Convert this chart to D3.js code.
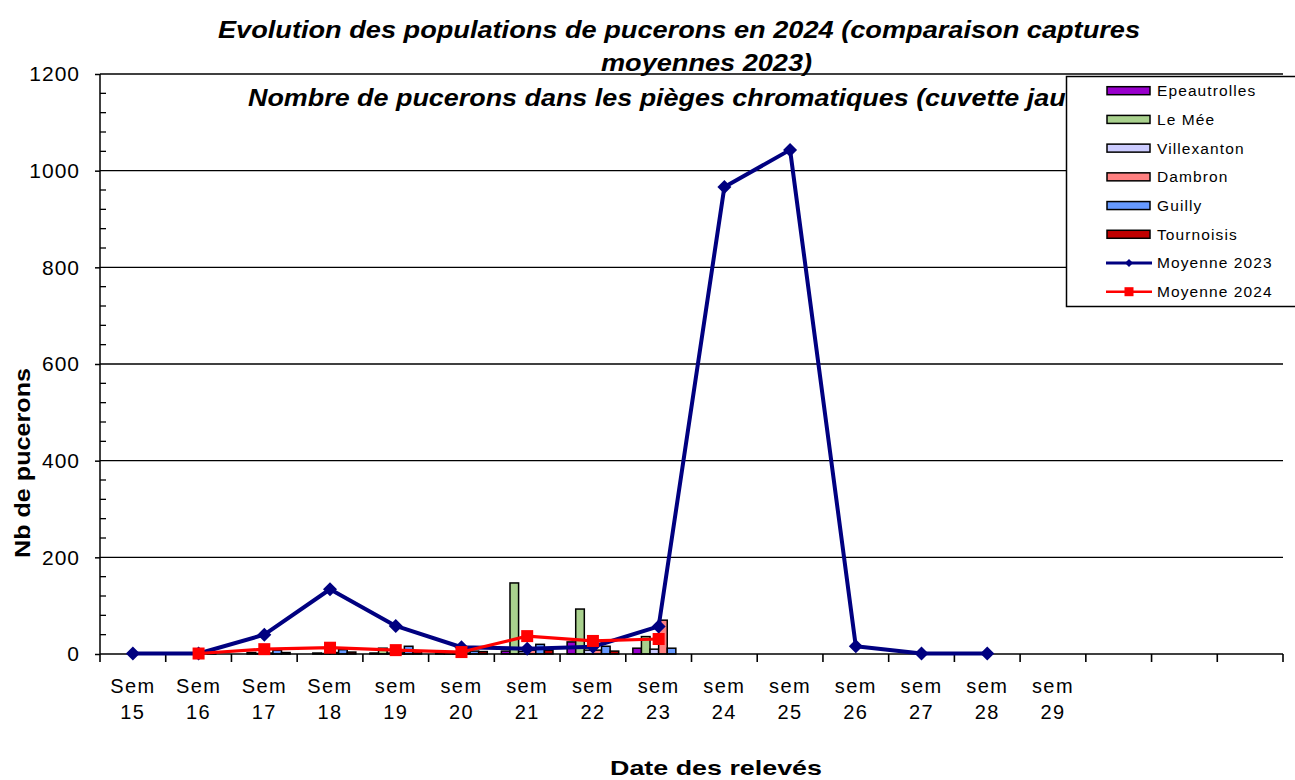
<!DOCTYPE html>
<html><head><meta charset="utf-8">
<script src="https://cdn.jsdelivr.net/npm/d3@7"></script>
<style>
html,body{margin:0;padding:0;background:#fff;}
svg{display:block;font-family:"Liberation Sans",Arial,sans-serif;}
</style></head>
<body>
<svg id="chart" width="1295" height="780"></svg>
<script>
const categories = ["Sem 15","Sem 16","Sem 17","Sem 18","sem 19","sem 20","sem 21","sem 22","sem 23","sem 24","sem 25","sem 26","sem 27","sem 28","sem 29","c16","c17","c18"];
const categoryLabels = ["Sem 15","Sem 16","Sem 17","Sem 18","sem 19","sem 20","sem 21","sem 22","sem 23","sem 24","sem 25","sem 26","sem 27","sem 28","sem 29","","",""];
const barSeriesNames = ["Epeautrolles","Le Mée","Villexanton","Dambron","Guilly","Tournoisis"];
const barColors = ["#9900CC","#A9D18E","#CCCCFF","#FF8080","#6699FF","#C00000"];
// values for Sem 15 .. sem 23 (null = no data)
const epeautrolles = [null,0,0,0,2,2,6,25,12];
const leMee        = [null,0,3,2,12,4,147,93,36];
const villexanton  = [null,0,1,1,2,2,5,8,10];
const dambron      = [null,0,2,3,4,2,8,8,70];
const guilly       = [null,2,8,9,16,6,20,16,12];
const tournoisis   = [null,0,3,4,6,5,8,6,0];
const moyenne2023  = [1,1,40,134,58,14,11,15,57,966,1043,16,1,1];
const moyenne2024  = [null,1,10,13,8,4,37,27,31];
const yTicks = [0,200,400,600,800,1000,1200];

const barSeries = [epeautrolles,leMee,villexanton,dambron,guilly,tournoisis];
const svg = d3.select("#chart");

const x = d3.scaleBand().domain(categories).range([100,1283]).paddingInner(0).paddingOuter(0);
const y = d3.scaleLinear().domain([0,1200]).range([654,74]);
const inner = d3.scaleBand().domain(d3.range(6)).range([0,x.bandwidth()]).paddingInner(0).paddingOuter(0.82);

// gridlines
svg.append("g").selectAll("line").data(yTicks.filter(d=>d>0)).join("line")
  .attr("x1",100).attr("x2",1283).attr("y1",d=>y(d)).attr("y2",d=>y(d))
  .attr("stroke","#000").attr("stroke-width",1.3);

// bars
barSeries.forEach((vals,si)=>{
  svg.append("g").selectAll("rect")
    .data(vals.map((v,i)=>({v,c:categories[i]})).filter(d=>d.v!==null && d.v>0))
    .join("rect")
    .attr("x",d=>x(d.c)+inner(si))
    .attr("width",inner.bandwidth())
    .attr("y",d=>y(d.v))
    .attr("height",d=>y(0)-y(d.v))
    .attr("fill",barColors[si]).attr("stroke","#000").attr("stroke-width",1.5);
});

// y axis
const yAxis = d3.axisLeft(y).tickValues(yTicks).tickSize(5).tickPadding(15).tickFormat(d3.format("d"));
const gy = svg.append("g").attr("transform","translate(100,0)").call(yAxis);
gy.select(".domain").attr("stroke","#000").attr("stroke-width",1.5).attr("d","M0,74V654");
gy.selectAll(".tick line").attr("stroke","#000").attr("stroke-width",1.5);
gy.selectAll(".tick text").attr("font-size",21).attr("letter-spacing",1).attr("fill","#000")
  .attr("font-family","Liberation Sans, Arial, sans-serif");
// minor ticks (inward)
const minor = d3.range(40,1200,40).filter(d=>d%200!==0);
svg.append("g").selectAll("line").data(minor).join("line")
  .attr("x1",100).attr("x2",106).attr("y1",d=>y(d)).attr("y2",d=>y(d))
  .attr("stroke","#000").attr("stroke-width",1.3);

// x axis
svg.append("line").attr("x1",100).attr("x2",1283).attr("y1",y(0)).attr("y2",y(0))
  .attr("stroke","#000").attr("stroke-width",1.6);
const bounds = categories.map(c=>x(c)).concat([x(categories[categories.length-1])+x.bandwidth()]);
svg.append("g").selectAll("line").data(bounds).join("line")
  .attr("x1",d=>d).attr("x2",d=>d).attr("y1",y(0)).attr("y2",y(0)+8)
  .attr("stroke","#000").attr("stroke-width",1.6);
const xl = svg.append("g").selectAll("text").data(categories).join("text")
  .attr("text-anchor","middle").attr("font-size",20).attr("letter-spacing",1.4).attr("fill","#000");
xl.each(function(c,i){
  const parts = categoryLabels[i].split(" ");
  const t = d3.select(this);
  parts.forEach((p,j)=>{
    if(!p) return;
    t.append("tspan").attr("x",x(c)+x.bandwidth()/2).attr("y",j===0?693:719).text(p);
  });
});

// lines
const line = d3.line().defined(d=>d.v!==null).x(d=>x(d.c)+x.bandwidth()/2).y(d=>y(d.v));
const d23 = moyenne2023.map((v,i)=>({v,c:categories[i]}));
const d24 = moyenne2024.map((v,i)=>({v,c:categories[i]}));
svg.append("path").datum(d23).attr("d",line).attr("fill","none").attr("stroke","#000080").attr("stroke-width",4).attr("stroke-linejoin","round");
svg.append("g").selectAll("path").data(d23.filter(d=>d.v!==null)).join("path")
  .attr("transform",d=>`translate(${x(d.c)+x.bandwidth()/2},${y(d.v)})`)
  .attr("d","M0,-7L7,0L0,7L-7,0Z").attr("fill","#000080");
svg.append("path").datum(d24).attr("d",line).attr("fill","none").attr("stroke","#FF0000").attr("stroke-width",3.2).attr("stroke-linejoin","round");
svg.append("g").selectAll("rect").data(d24.filter(d=>d.v!==null)).join("rect")
  .attr("x",d=>x(d.c)+x.bandwidth()/2-6).attr("y",d=>y(d.v)-6).attr("width",12).attr("height",12)
  .attr("fill","#FF0000");

// titles
const tfont = {"font-size":24,"font-weight":"bold","font-style":"italic","lengthAdjust":"spacingAndGlyphs"};
function applyFont(sel,f){Object.entries(f).forEach(([k,v])=>sel.attr(k,v));return sel;}
applyFont(svg.append("text").attr("x",218).attr("y",38).attr("textLength",922)
  .text("Evolution des populations de pucerons en 2024 (comparaison captures"),tfont);
applyFont(svg.append("text").attr("x",601).attr("y",71).attr("textLength",211)
  .text("moyennes 2023)"),tfont);
applyFont(svg.append("text").attr("x",248).attr("y",106).attr("textLength",858)
  .text("Nombre de pucerons dans les pièges chromatiques (cuvette jaune)"),tfont);

// axis titles
svg.append("text").attr("transform","translate(30,463) rotate(-90)").attr("text-anchor","middle")
  .attr("font-size",22).attr("font-weight","bold").attr("textLength",190).attr("lengthAdjust","spacingAndGlyphs").text("Nb de pucerons");
svg.append("text").attr("x",716).attr("y",775).attr("text-anchor","middle")
  .attr("font-size",21).attr("font-weight","bold").attr("textLength",212).attr("lengthAdjust","spacingAndGlyphs").text("Date des relevés");

// legend
const lg = svg.append("g");
lg.append("rect").attr("x",1066.5).attr("y",76.5).attr("width",240).attr("height",230)
  .attr("fill","#fff").attr("stroke","#000").attr("stroke-width",1.5);
const legendItems = barSeriesNames.map((n,i)=>({n,type:"bar",color:barColors[i]}))
  .concat([{n:"Moyenne 2023",type:"l23",color:"#000080"},{n:"Moyenne 2024",type:"l24",color:"#FF0000"}]);
const rowY = d3.scalePoint().domain(d3.range(legendItems.length)).range([90.7,291.7]);
legendItems.forEach((it,i)=>{
  const cy = rowY(i);
  if(it.type==="bar"){
    lg.append("rect").attr("x",1107).attr("y",cy-4).attr("width",43).attr("height",8)
      .attr("fill",it.color).attr("stroke","#000").attr("stroke-width",1.5);
  } else {
    lg.append("line").attr("x1",1106).attr("x2",1152).attr("y1",cy).attr("y2",cy)
      .attr("stroke",it.color).attr("stroke-width",it.type==="l23"?3:2.5);
    if(it.type==="l23") lg.append("path").attr("transform",`translate(1129,${cy})`).attr("d","M0,-4L4,0L0,4L-4,0Z").attr("fill",it.color);
    else lg.append("rect").attr("x",1124.5).attr("y",cy-4.5).attr("width",9).attr("height",9).attr("fill",it.color);
  }
  lg.append("text").attr("x",1157).attr("y",cy+5.5).attr("font-size",15.5).attr("letter-spacing",1.1)
    .attr("fill","#000").text(it.n);
});
</script>
</body></html>
